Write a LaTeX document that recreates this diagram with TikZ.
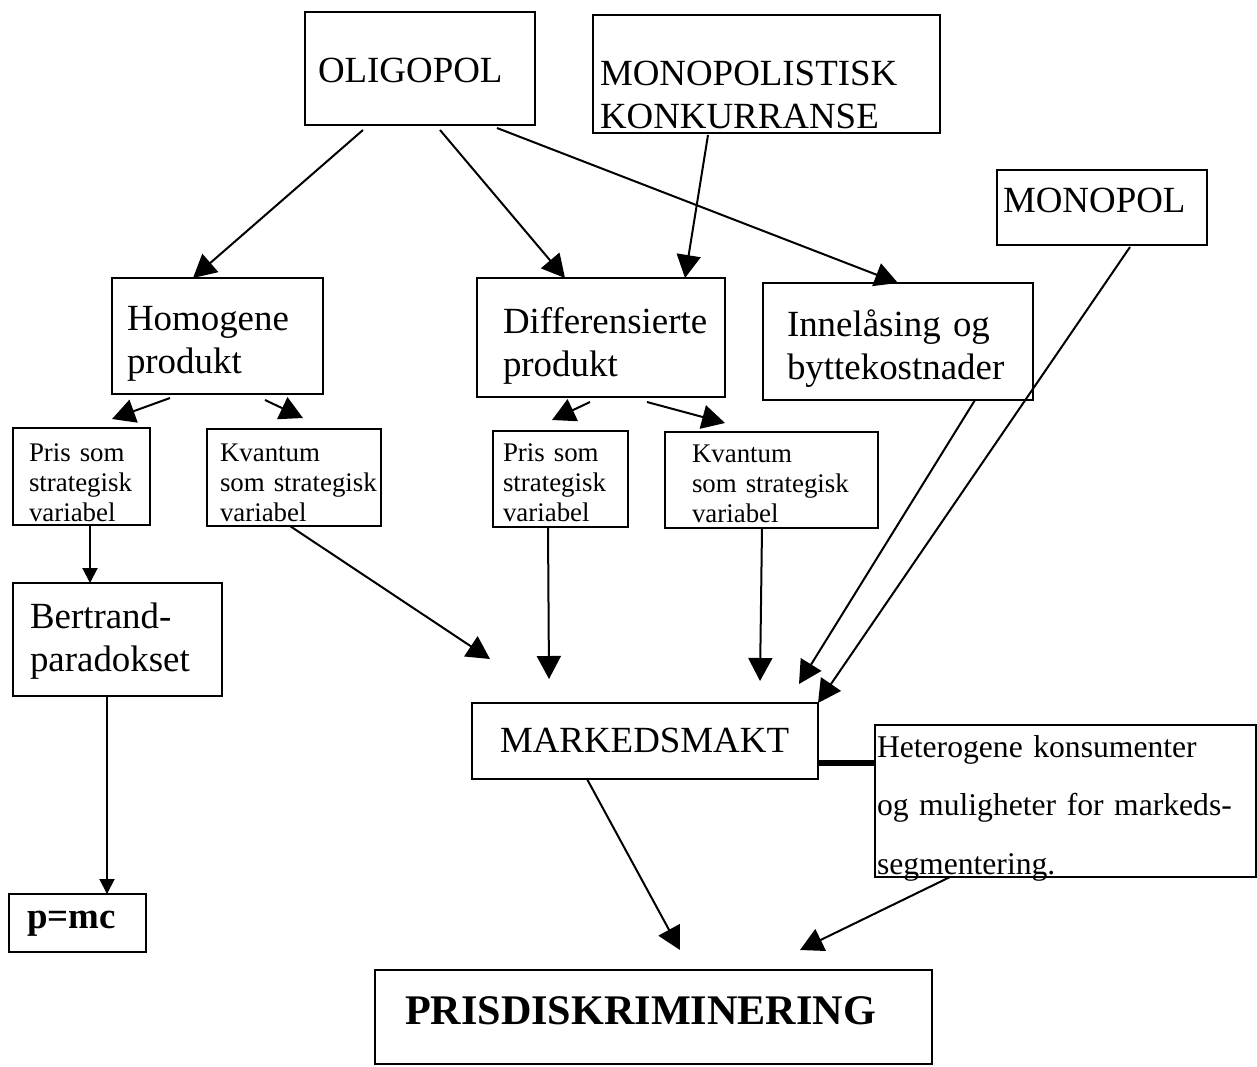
\documentclass[tikz,border=0pt]{standalone}
\usepackage{fontspec}
\setmainfont{Liberation Serif}
\usetikzlibrary{arrows.meta,calc}
\hyphenpenalty=10000
\exhyphenpenalty=10000

\tikzset{
  boks/.style={draw, line width=0.4mm, anchor=north west, align=left,
    inner ysep=0pt, outer sep=0pt},
  maal/.style n args={4}{text width=#1, inner xsep=#2, text height=#3, text depth=#4},
  stor/.style={font=\fontsize{21}{24.5}\selectfont},
  liten/.style={font=\fontsize{15.3}{17.1}\selectfont},
  pil/.style={line width=0.4mm, -{Triangle[length=4.6mm,width=4.8mm]}},
  litenpil/.style={line width=0.4mm, -{Triangle[length=3mm,width=3mm]}},
}

\begin{document}
\begin{tikzpicture}[x=0.2mm,y=-0.2mm]
  \useasboundingbox (0,0) rectangle (1257,1066);

  % Markedsformer
  \node[boks,stor,maal={40.8mm}{2.6mm}{14mm}{8.6mm}] (oligopol) at (305,12) {OLIGOPOL};
  \node[boks,stor,maal={66.6mm}{1.4mm}{14mm}{9.6mm}] (monokonk) at (593,15) {MONOPOLISTISK\\KONKURRANSE};
  \node[boks,stor,maal={39.6mm}{1.2mm}{8.4mm}{6.6mm}] (monopol) at (997,170) {MONOPOL};

  % Produkt og innelaasing
  \node[boks,stor,maal={36.2mm}{3mm}{10.4mm}{12.8mm}] (homogene) at (112,278) {Homogene\\produkt};
  \node[boks,stor,maal={39.2mm}{5.2mm}{11mm}{12.8mm}] (diff) at (477,278) {Differensierte\\produkt};
  \node[boks,stor,maal={44.4mm}{4.8mm}{10.6mm}{12.8mm}] (innelaasing) at (763,283) {Innelåsing og\\byttekostnader};

  % Strategiske variablar
  \node[boks,liten,maal={21mm}{3.2mm}{6.6mm}{12.8mm}] (pris1) at (13,428) {Pris som\\strategisk\\variabel};
  \node[boks,liten,maal={29.6mm}{2.6mm}{6.4mm}{13mm}] (kvantum1) at (207,429) {Kvantum\\\mbox{som strategisk}\\variabel};
  \node[boks,liten,maal={23mm}{2mm}{6mm}{13.2mm}] (pris2) at (493,431) {Pris som\\strategisk\\variabel};
  \node[boks,liten,maal={31.8mm}{5.4mm}{6mm}{13.2mm}] (kvantum2) at (665,432) {Kvantum\\som strategisk\\variabel};

  % Resultat
  \node[boks,font=\fontsize{21}{24.5}\selectfont,maal={35mm}{3.4mm}{9mm}{13.6mm}] (bertrand) at (13,583) {Bertrand-\\paradokset};
  \node[boks,font=\fontsize{21}{24.5}\selectfont\bfseries,maal={20.2mm}{3.6mm}{6.8mm}{4.8mm}] (pmc) at (9,894) {p=mc};
  \node[boks,stor,maal={58mm}{5.6mm}{9.8mm}{5.4mm}] (markedsmakt) at (472,703) {MARKEDSMAKT};
  \node[boks,font=\fontsize{18}{33.3}\selectfont,maal={75.4mm}{0.4mm}{6.4mm}{24mm}] (hetero) at (875,725) {Heterogene konsumenter\\og muligheter for markeds-\\segmentering.};
  \node[boks,font=\fontsize{24}{28}\selectfont\bfseries,maal={99.4mm}{6mm}{10.8mm}{8mm}] (prisdisk) at (375,970) {PRISDISKRIMINERING};

  % Piler fra markedsformene
  \draw[pil] ($(oligopol.south west)+(58,5)$) -- ($(homogene.north west)+(81,0)$);
  \draw[pil] ($(oligopol.south west)+(135,5)$) -- ($(diff.north west)+(88,0)$);
  \draw[pil] ($(oligopol.south west)+(192,3)$) -- ($(innelaasing.north west)+(135,0)$);
  \draw[pil] ($(monokonk.south west)+(115,2)$) -- ($(diff.north west)+(208,0)$);
  \draw[pil] ($(monopol.south west)+(133,2)$) -- (markedsmakt.north east);
  \draw[pil] ($(innelaasing.south west)+(212,0)$) -- ($(markedsmakt.north west)+(327,-19)$);

  % Piler til strategiske variablar
  \draw[pil] ($(homogene.south west)+(58,4)$) -- ($(pris1.north west)+(99,-9)$);
  \draw[pil] ($(homogene.south west)+(153,6)$) -- ($(kvantum1.north west)+(96,-11)$);
  \draw[pil] ($(diff.south west)+(113,5)$) -- ($(pris2.north west)+(59,-11)$);
  \draw[pil] ($(diff.south west)+(170,5)$) -- ($(kvantum2.north west)+(60,-9)$);

  % Piler mot markedsmakt
  \draw[litenpil] ($(pris1.south west)+(77,0)$) -- ($(bertrand.north west)+(77,0)$);
  \draw[pil] ($(kvantum1.south west)+(83,0)$) -- ($(markedsmakt.north west)+(18,-44)$);
  \draw[pil] ($(pris2.south west)+(55,0)$) -- ($(markedsmakt.north west)+(77,-24)$);
  \draw[pil] ($(kvantum2.south west)+(97,0)$) -- ($(markedsmakt.north west)+(288,-22)$);
  \draw[litenpil] ($(bertrand.south west)+(94,0)$) -- ($(pmc.north west)+(98,0)$);

  % Prisdiskriminering
  \draw[line width=1.2mm] ($(markedsmakt.north east)+(0,60)$) -- ($(hetero.north west)+(0,38)$);
  \draw[pil] ($(markedsmakt.south west)+(115,0)$) -- ($(prisdisk.north west)+(305,-20)$);
  \draw[pil] ($(hetero.south west)+(75,0)$) -- ($(prisdisk.north west)+(425,-20)$);
\end{tikzpicture}
\end{document}
